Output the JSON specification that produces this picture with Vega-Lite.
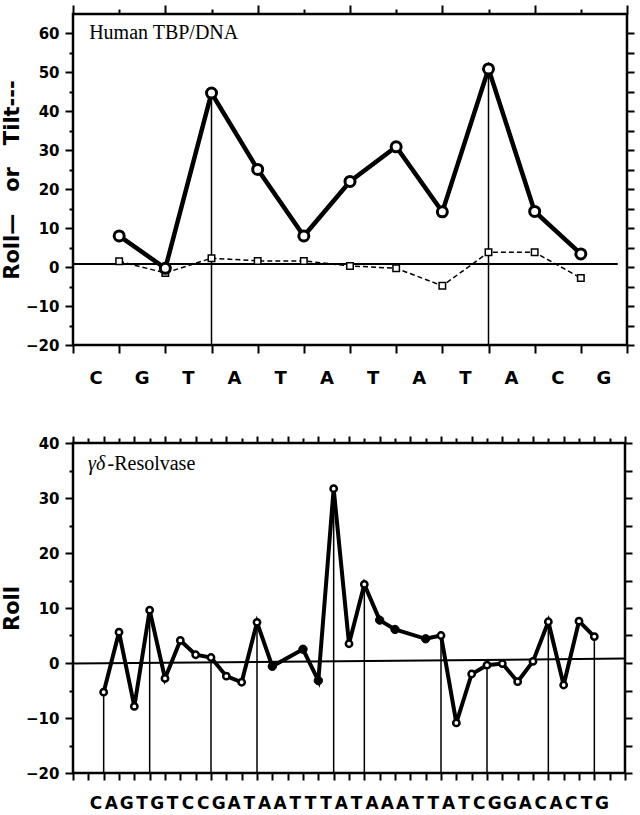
{
  "$schema": "https://vega.github.io/schema/vega-lite/v6.json",
  "background": "white",
  "padding": {"left": 0, "top": 2, "right": 4, "bottom": 0},
  "spacing": 43,
  "config": {
    "view": {"stroke": "black", "strokeWidth": 2.5},
    "axis": {
      "domain": false, "grid": false, "tickColor": "black", "tickWidth": 2,
      "labelFont": "DejaVu Sans", "labelFontWeight": "bold", "labelFontSize": 15, "labelColor": "black",
      "titleFont": "DejaVu Sans", "titleFontWeight": "bold", "titleFontSize": 21, "titleColor": "black"
    }
  },
  "datasets": {
    "tbp": [
      {"step": 1, "roll": 8.0, "tilt": 1.5, "kink": false},
      {"step": 2, "roll": -0.3, "tilt": -1.5, "kink": false},
      {"step": 3, "roll": 44.7, "tilt": 2.3, "kink": true},
      {"step": 4, "roll": 25.1, "tilt": 1.6, "kink": false},
      {"step": 5, "roll": 8.0, "tilt": 1.6, "kink": false},
      {"step": 6, "roll": 22.0, "tilt": 0.3, "kink": false},
      {"step": 7, "roll": 30.9, "tilt": -0.3, "kink": false},
      {"step": 8, "roll": 14.2, "tilt": -4.8, "kink": false},
      {"step": 9, "roll": 50.9, "tilt": 3.8, "kink": true},
      {"step": 10, "roll": 14.3, "tilt": 3.8, "kink": false},
      {"step": 11, "roll": 3.4, "tilt": -2.8, "kink": false}
    ],
    "tbp_seq": [
      {"pos": 0.5, "base": "C"}, {"pos": 1.5, "base": "G"}, {"pos": 2.5, "base": "T"},
      {"pos": 3.5, "base": "A"}, {"pos": 4.5, "base": "T"}, {"pos": 5.5, "base": "A"},
      {"pos": 6.5, "base": "T"}, {"pos": 7.5, "base": "A"}, {"pos": 8.5, "base": "T"},
      {"pos": 9.5, "base": "A"}, {"pos": 10.5, "base": "C"}, {"pos": 11.5, "base": "G"}
    ],
    "res": [
      {"step": 2, "roll": -5.3, "filled": false, "kink": true},
      {"step": 3, "roll": 5.6, "filled": false, "kink": false},
      {"step": 4, "roll": -7.9, "filled": false, "kink": false},
      {"step": 5, "roll": 9.6, "filled": false, "kink": true},
      {"step": 6, "roll": -2.8, "filled": false, "kink": false},
      {"step": 7, "roll": 4.1, "filled": false, "kink": false},
      {"step": 8, "roll": 1.5, "filled": false, "kink": false},
      {"step": 9, "roll": 1.0, "filled": false, "kink": true},
      {"step": 10, "roll": -2.4, "filled": false, "kink": false},
      {"step": 11, "roll": -3.5, "filled": false, "kink": false},
      {"step": 12, "roll": 7.4, "filled": false, "kink": true},
      {"step": 13, "roll": -0.6, "filled": true, "kink": false},
      {"step": 15, "roll": 2.5, "filled": true, "kink": false},
      {"step": 16, "roll": -3.2, "filled": true, "kink": false},
      {"step": 17, "roll": 31.7, "filled": false, "kink": true},
      {"step": 18, "roll": 3.5, "filled": false, "kink": false},
      {"step": 19, "roll": 14.3, "filled": false, "kink": true},
      {"step": 20, "roll": 7.8, "filled": true, "kink": false},
      {"step": 21, "roll": 6.1, "filled": true, "kink": false},
      {"step": 23, "roll": 4.4, "filled": true, "kink": false},
      {"step": 24, "roll": 5.0, "filled": false, "kink": true},
      {"step": 25, "roll": -10.9, "filled": false, "kink": false},
      {"step": 26, "roll": -2.0, "filled": false, "kink": false},
      {"step": 27, "roll": -0.4, "filled": false, "kink": true},
      {"step": 28, "roll": -0.1, "filled": false, "kink": false},
      {"step": 29, "roll": -3.4, "filled": false, "kink": false},
      {"step": 30, "roll": 0.3, "filled": false, "kink": false},
      {"step": 31, "roll": 7.5, "filled": false, "kink": true},
      {"step": 32, "roll": -4.0, "filled": false, "kink": false},
      {"step": 33, "roll": 7.6, "filled": false, "kink": false},
      {"step": 34, "roll": 4.8, "filled": false, "kink": true}
    ],
    "res_seq": [
      {"pos": 1.5, "base": "C"}, {"pos": 2.5, "base": "A"}, {"pos": 3.5, "base": "G"}, {"pos": 4.5, "base": "T"},
      {"pos": 5.5, "base": "G"}, {"pos": 6.5, "base": "T"}, {"pos": 7.5, "base": "C"}, {"pos": 8.5, "base": "C"},
      {"pos": 9.5, "base": "G"}, {"pos": 10.5, "base": "A"}, {"pos": 11.5, "base": "T"}, {"pos": 12.5, "base": "A"},
      {"pos": 13.5, "base": "A"}, {"pos": 14.5, "base": "T"}, {"pos": 15.5, "base": "T"}, {"pos": 16.5, "base": "T"},
      {"pos": 17.5, "base": "A"}, {"pos": 18.5, "base": "T"}, {"pos": 19.5, "base": "A"}, {"pos": 20.5, "base": "A"},
      {"pos": 21.5, "base": "A"}, {"pos": 22.5, "base": "T"}, {"pos": 23.5, "base": "T"}, {"pos": 24.5, "base": "A"},
      {"pos": 25.5, "base": "T"}, {"pos": 26.5, "base": "C"}, {"pos": 27.5, "base": "G"}, {"pos": 28.5, "base": "G"},
      {"pos": 29.5, "base": "A"}, {"pos": 30.5, "base": "C"}, {"pos": 31.5, "base": "A"}, {"pos": 32.5, "base": "C"},
      {"pos": 33.5, "base": "T"}, {"pos": 34.5, "base": "G"}
    ]
  },
  "vconcat": [
    {
      "width": 554,
      "height": 331,
      "resolve": {"axis": {"x": "independent", "y": "independent"}},
      "layer": [
        {
          "data": {"name": "tbp"},
          "mark": {"type": "line", "color": "black", "strokeWidth": 4.5},
          "encoding": {
            "x": {"field": "step", "type": "quantitative",
                  "scale": {"domain": [0, 12], "nice": false, "zero": false},
                  "axis": {"orient": "bottom", "values": [0,1,2,3,4,5,6,7,8,9,10,11,12], "labels": false, "tickSize": 8, "title": null}},
            "y": {"field": "roll", "type": "quantitative",
                  "scale": {"domain": [-20, 65], "nice": false, "zero": false},
                  "axis": {"orient": "left", "values": [-20,-15,-10,-5,0,5,10,15,20,25,30,35,40,45,50,55,60],
                           "labelExpr": "datum.value % 10 === 0 ? datum.label : ''",
                           "tickSize": {"condition": {"test": "datum.value % 10 === 0", "value": 8}, "value": 4},
                           "labelPadding": 6, "title": "Roll—\u00a0\u00a0\u00a0or\u00a0\u00a0\u00a0Tilt---", "titlePadding": 3}}
          }
        },
        {
          "data": {"values": [{}]},
          "mark": {"type": "rule", "color": "black", "strokeWidth": 2},
          "encoding": {
            "x": {"datum": 0, "type": "quantitative",
                  "axis": {"orient": "top", "values": [0,1,2,3,4,5,6,7,8,9,10,11,12], "labels": false, "title": null,
                           "tickSize": {"condition": {"test": "datum.value % 2 === 0", "value": 9}, "value": 5}}},
            "x2": {"datum": 11.8},
            "y": {"datum": 0.8, "type": "quantitative",
                  "axis": {"orient": "right", "values": [-20,-15,-10,-5,0,5,10,15,20,25,30,35,40,45,50,55,60], "labels": false, "title": null, "tickSize": 7}}
          }
        },
        {
          "data": {"name": "tbp"},
          "transform": [{"filter": "datum.kink"}],
          "mark": {"type": "rule", "color": "black", "strokeWidth": 1.5},
          "encoding": {
            "x": {"field": "step", "type": "quantitative", "axis": null},
            "y": {"field": "roll", "type": "quantitative", "axis": null},
            "y2": {"datum": -20}
          }
        },
        {
          "data": {"name": "tbp"},
          "mark": {"type": "line", "color": "black", "strokeWidth": 1.5, "strokeDash": [5, 3]},
          "encoding": {
            "x": {"field": "step", "type": "quantitative", "axis": null},
            "y": {"field": "tilt", "type": "quantitative", "axis": null}
          }
        },
        {
          "data": {"name": "tbp"},
          "mark": {"type": "point", "shape": "square", "filled": true, "fill": "white", "stroke": "black", "strokeWidth": 1.5, "size": 42, "opacity": 1},
          "encoding": {
            "x": {"field": "step", "type": "quantitative", "axis": null},
            "y": {"field": "tilt", "type": "quantitative", "axis": null}
          }
        },
        {
          "data": {"name": "tbp"},
          "mark": {"type": "point", "shape": "circle", "filled": true, "fill": "white", "stroke": "black", "strokeWidth": 3, "size": 100, "opacity": 1},
          "encoding": {
            "x": {"field": "step", "type": "quantitative", "axis": null},
            "y": {"field": "roll", "type": "quantitative", "axis": null}
          }
        },
        {
          "data": {"name": "tbp_seq"},
          "mark": {"type": "text", "font": "DejaVu Sans", "fontWeight": "bold", "fontSize": 18, "baseline": "middle", "dy": 34, "color": "black"},
          "encoding": {
            "x": {"field": "pos", "type": "quantitative", "axis": null},
            "y": {"datum": -20, "type": "quantitative", "axis": null},
            "text": {"field": "base"}
          }
        },
        {
          "data": {"values": [{"label": "Human TBP/DNA"}]},
          "mark": {"type": "text", "font": "Liberation Serif", "fontSize": 20, "align": "left", "baseline": "alphabetic", "color": "black"},
          "encoding": {
            "x": {"datum": 0.35, "type": "quantitative", "axis": null},
            "y": {"datum": 58.5, "type": "quantitative", "axis": null},
            "text": {"field": "label"}
          }
        }
      ]
    },
    {
      "width": 552,
      "height": 330,
      "resolve": {"axis": {"x": "independent", "y": "independent"}},
      "layer": [
        {
          "data": {"name": "res"},
          "mark": {"type": "line", "color": "black", "strokeWidth": 4},
          "encoding": {
            "x": {"field": "step", "type": "quantitative",
                  "scale": {"domain": [0, 36], "nice": false, "zero": false},
                  "axis": {"orient": "bottom", "values": [0,1,2,3,4,5,6,7,8,9,10,11,12,13,14,15,16,17,18,19,20,21,22,23,24,25,26,27,28,29,30,31,32,33,34,35,36], "labels": false, "tickSize": 7, "title": null}},
            "y": {"field": "roll", "type": "quantitative",
                  "scale": {"domain": [-20, 40], "nice": false, "zero": false},
                  "axis": {"orient": "left", "values": [-20,-15,-10,-5,0,5,10,15,20,25,30,35,40],
                           "labelExpr": "datum.value % 10 === 0 ? datum.label : ''",
                           "tickSize": {"condition": {"test": "datum.value % 10 === 0", "value": 8}, "value": 4},
                           "labelPadding": 6, "title": "Roll", "titlePadding": 3}}
          }
        },
        {
          "data": {"values": [{}]},
          "mark": {"type": "rule", "color": "black", "strokeWidth": 2},
          "encoding": {
            "x": {"datum": 0, "type": "quantitative",
                  "axis": {"orient": "top", "values": [0,1,2,3,4,5,6,7,8,9,10,11,12,13,14,15,16,17,18,19,20,21,22,23,24,25,26,27,28,29,30,31,32,33,34,35,36], "labels": false, "title": null,
                           "tickSize": {"condition": {"test": "datum.value % 2 === 0", "value": 7}, "value": 5}}},
            "x2": {"datum": 36},
            "y": {"datum": -0.1, "type": "quantitative",
                  "axis": {"orient": "right", "values": [-20,-15,-10,-5,0,5,10,15,20,25,30,35,40], "labels": false, "title": null, "tickSize": 7}},
            "y2": {"datum": 0.8}
          }
        },
        {
          "data": {"name": "res"},
          "transform": [{"filter": "datum.kink"}],
          "mark": {"type": "rule", "color": "black", "strokeWidth": 1.5},
          "encoding": {
            "x": {"field": "step", "type": "quantitative", "axis": null},
            "y": {"field": "roll", "type": "quantitative", "axis": null},
            "y2": {"datum": -20}
          }
        },
        {
          "data": {"name": "res"},
          "transform": [{"filter": "!datum.filled"}],
          "mark": {"type": "point", "shape": "circle", "filled": true, "fill": "white", "stroke": "black", "strokeWidth": 2.5, "size": 40, "opacity": 1},
          "encoding": {
            "x": {"field": "step", "type": "quantitative", "axis": null},
            "y": {"field": "roll", "type": "quantitative", "axis": null}
          }
        },
        {
          "data": {"name": "res"},
          "transform": [{"filter": "datum.filled"}],
          "mark": {"type": "point", "shape": "circle", "filled": true, "fill": "black", "stroke": "black", "strokeWidth": 1, "size": 70, "opacity": 1},
          "encoding": {
            "x": {"field": "step", "type": "quantitative", "axis": null},
            "y": {"field": "roll", "type": "quantitative", "axis": null}
          }
        },
        {
          "data": {"name": "res_seq"},
          "mark": {"type": "text", "font": "DejaVu Sans", "fontWeight": "bold", "fontSize": 17, "baseline": "middle", "dy": 31, "color": "black"},
          "encoding": {
            "x": {"field": "pos", "type": "quantitative", "axis": null},
            "y": {"datum": -20, "type": "quantitative", "axis": null},
            "text": {"field": "base"}
          }
        },
        {
          "data": {"values": [{"label": "γδ"}]},
          "mark": {"type": "text", "font": "Liberation Serif", "fontStyle": "italic", "fontSize": 20, "align": "left", "baseline": "alphabetic", "color": "black"},
          "encoding": {
            "x": {"datum": 0.98, "type": "quantitative", "axis": null},
            "y": {"datum": 35.1, "type": "quantitative", "axis": null},
            "text": {"field": "label"}
          }
        },
        {
          "data": {"values": [{"label": "-Resolvase"}]},
          "mark": {"type": "text", "font": "Liberation Serif", "fontSize": 20, "align": "left", "baseline": "alphabetic", "color": "black"},
          "encoding": {
            "x": {"datum": 2.25, "type": "quantitative", "axis": null},
            "y": {"datum": 35.1, "type": "quantitative", "axis": null},
            "text": {"field": "label"}
          }
        }
      ]
    }
  ]
}
